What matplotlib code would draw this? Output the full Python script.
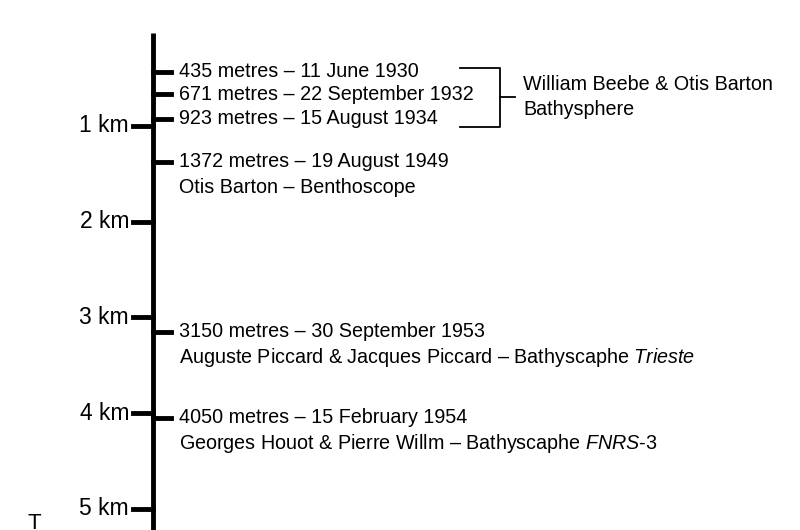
import matplotlib
matplotlib.use("Agg")
import matplotlib.pyplot as plt

km_ticks = [1, 2, 3, 4, 5]
km_labels = ["1 km", "2 km", "3 km", "4 km", "5 km"]
depths_m = [435, 671, 923, 1372, 3150, 4050]
line1 = ["435 metres – 11 June 1930", "671 metres – 22 September 1932",
         "923 metres – 15 August 1934", "1372 metres – 19 August 1949",
         "3150 metres – 30 September 1953", "4050 metres – 15 February 1954"]
line2 = [None, None, None, "Otis Barton – Benthoscope",
         "Auguste Piccard & Jacques Piccard – Bathyscaphe $\\mathit{Trieste}$",
         "Georges Houot & Pierre Willm – Bathyscaphe $\\mathit{FNRS}$-$\\mathit{3}$"]

plt.rcParams['font.family'] = ['Liberation Sans', 'DejaVu Sans']
plt.rcParams['mathtext.fontset'] = 'custom'
plt.rcParams['mathtext.it'] = 'Liberation Sans:italic'
plt.rcParams['mathtext.rm'] = 'Liberation Sans'

fig = plt.figure(figsize=(8, 5.3), dpi=100)
ax = fig.add_axes([0, 0, 1, 1])
ax.set_xlim(0, 800)
ax.set_ylim(5.22, -0.315)
ax.axis('off')

pk = 1 / 96.0  # km per pixel
X = 153
ax.plot([X, X], [0.03, 5.3], color='black', lw=3.5, solid_capstyle='butt')
for t, lab in zip(km_ticks, km_labels):
    ax.plot([133, X], [t, t], color='black', lw=3.5)
    ax.text(129, t, lab, ha='right', va='center', fontsize=16.5)
for i, d in enumerate(depths_m):
    km = d / 1000
    ax.plot([X, 171], [km, km], color='black', lw=3.5)
    ax.text(179, km, line1[i], ha='left', va='center', fontsize=14.2)
    if line2[i] is not None:
        ax.text(179, km + 26 * pk, line2[i], ha='left', va='center', fontsize=14.2)

# bracket
yt, yb = depths_m[0] / 1000 - 4 * pk, depths_m[2] / 1000 + 8 * pk
ym = (yt + yb) / 2
ax.plot([460, 500, 500, 460], [yt, yt, yb, yb], color='black', lw=1.3)
ax.plot([500, 515], [ym, ym], color='black', lw=1.3)
ax.text(523, ym - 13 * pk, "William Beebe & Otis Barton", ha='left', va='center', fontsize=14.2)
ax.text(523, ym + 12 * pk, "Bathysphere", ha='left', va='center', fontsize=14.2)
ax.text(28, 5.15, "T", ha='left', va='center', fontsize=16)

fig.savefig("out.png", dpi=100)
